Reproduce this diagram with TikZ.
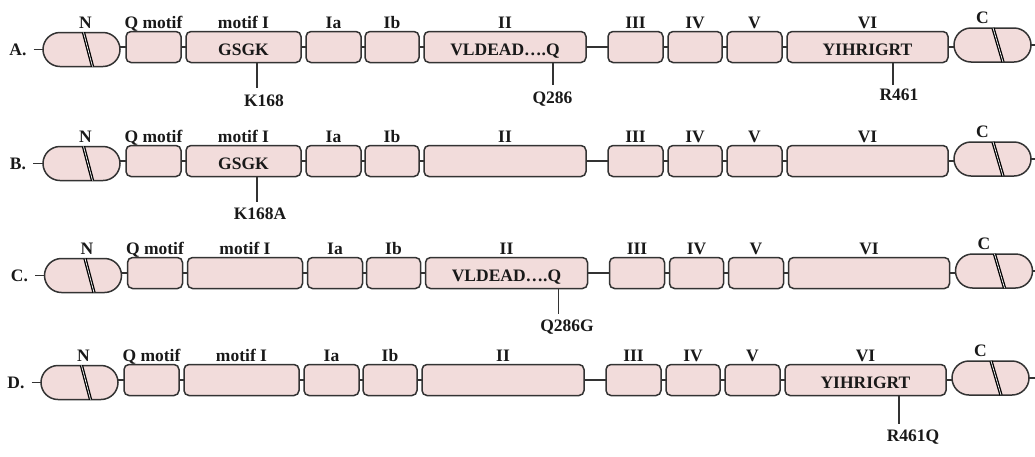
\documentclass[tikz,border=0pt]{standalone}
\usepackage{fontspec}
\setmainfont{Liberation Serif}
\usetikzlibrary{shapes.misc}
\definecolor{boxfill}{HTML}{F2DCDB}
\definecolor{boxline}{HTML}{333333}
\tikzset{
  blk/.style={draw=boxline, line width=1.5pt, fill=boxfill, rounded corners=5pt,
    minimum height=31pt, inner sep=0pt, outer sep=0pt},
  capsule/.style={rounded rectangle, draw=boxline, line width=1.5pt, fill=boxfill,
    minimum height=34pt, minimum width=77pt, inner sep=0pt, outer sep=0pt},
  lbl/.style={font=\fontsize{17.5pt}{20pt}\selectfont\bfseries, inner sep=0pt,
    text height=11.5pt, text depth=0pt, text=black!90},
  conn/.style={draw=boxline, line width=1.3pt},
  slashline/.style={draw=black, double=white, double distance=0.7pt, line width=1.3pt},
}
\begin{document}
\begin{tikzpicture}[x=1pt,y=-1pt]
\useasboundingbox (0,0) rectangle (1035,456);
\foreach \r/\yc/\dx in {A/47/0,B/161/0,C/273/1.5,D/380/-2}{
  \begin{scope}[shift={(\dx,\yc)}]
    \node[lbl] (\r-lab) at (18,2.5) {\r.};
    \node[capsule] (\r-N) at (81.5,2.5) {};
    \node[lbl] (\r-N-t) at ([xshift=4pt,yshift=9.5pt]\r-N.north) {N};
    \draw[slashline] (83.5,-14.5) -- (92.5,19.5);
    \foreach \n/\a/\b/\t in {Q/126/181/{Q motif}, mI/186/301/{motif I}, Ia/306/361/Ia,
        Ib/365/419/Ib, II/424/586/II, III/608/663/III, IV/668/722/IV, V/727/782/V,
        VI/787/948/VI}{
      \node[blk, minimum width={\b-\a}] (\r-\n) at ({(\a+\b)/2},0) {};
      \node[lbl] (\r-\n-t) at ([yshift=9pt]\r-\n.north) {\t};
    }
    \node[capsule] (\r-C) at (992.5,-2) {};
    \node[lbl] (\r-C-t) at ([xshift=-10pt,yshift=10pt]\r-C.north) {C};
    \draw[slashline] (993,-19) -- (1003,15);
    \coordinate (\r-end) at (1045,0);
    % connectors
    \draw[conn, shorten <=7pt] (\r-lab.east) -- (\r-lab.east -| \r-N.west);
    \draw[conn] (\r-Q.west -| \r-N.east) -- (\r-Q.west);
    \draw[conn] (\r-Q.east) -- (\r-mI.west);
    \draw[conn] (\r-mI.east) -- (\r-Ia.west);
    \draw[conn] (\r-Ia.east) -- (\r-Ib.west);
    \draw[conn] (\r-Ib.east) -- (\r-II.west);
    \draw[conn] (\r-II.east) -- (\r-III.west);
    \draw[conn] (\r-III.east) -- (\r-IV.west);
    \draw[conn] (\r-IV.east) -- (\r-V.west);
    \draw[conn] (\r-V.east) -- (\r-VI.west);
    \draw[conn] (\r-VI.east) -- (\r-VI.east -| \r-C.west);
    \draw[conn] (\r-C.east) -- (\r-C.east -| \r-end);
  \end{scope}
}
% sequences inside boxes
\node[lbl] (A-seq1) at ([yshift=-3pt]A-mI.center) {GSGK};
\node[lbl] (A-seq2) at ([yshift=-3pt]A-II.center) {VLDEAD….Q};
\node[lbl] (A-seq3) at ([yshift=-3pt]A-VI.center) {YIHRIGRT};
\node[lbl] (B-seq1) at ([yshift=-3pt]B-mI.center) {GSGK};
\node[lbl] (C-seq2) at ([yshift=-3pt]C-II.center) {VLDEAD….Q};
\node[lbl] (D-seq3) at ([yshift=-3pt]D-VI.center) {YIHRIGRT};
% mutation stems and labels
\coordinate (sA1) at (257,0);
\coordinate (sA2) at (553,0);
\coordinate (sA3) at (893,0);
\coordinate (sB1) at (257,0);
\coordinate (sC2) at (558.5,0);
\coordinate (sD3) at (899,0);
\node[lbl] (A-m1) at (264,100.5) {K168};
\node[lbl] (A-m2) at (552.5,98) {Q286};
\node[lbl] (A-m3) at (899,95) {R461};
\node[lbl] (B-m1) at (260,214) {K168A};
\node[lbl] (C-m2) at (567,326) {Q286G};
\node[lbl] (D-m3) at (913,436) {R461Q};
\draw[conn, shorten >=6.5pt] (A-mI.south -| sA1) -- (A-m1.north -| sA1);
\draw[conn, shorten >=7pt] (A-II.south -| sA2) -- (A-m2.north -| sA2);
\draw[conn, shorten >=4pt] (A-VI.south -| sA3) -- (A-m3.north -| sA3);
\draw[conn, shorten >=6.5pt] (B-mI.south -| sB1) -- (B-m1.north -| sB1);
\draw[conn, shorten >=6.5pt] (C-II.south -| sC2) -- (C-m2.north -| sC2);
\draw[conn, shorten >=6.5pt] (D-VI.south -| sD3) -- (D-m3.north -| sD3);
\end{tikzpicture}
\end{document}
